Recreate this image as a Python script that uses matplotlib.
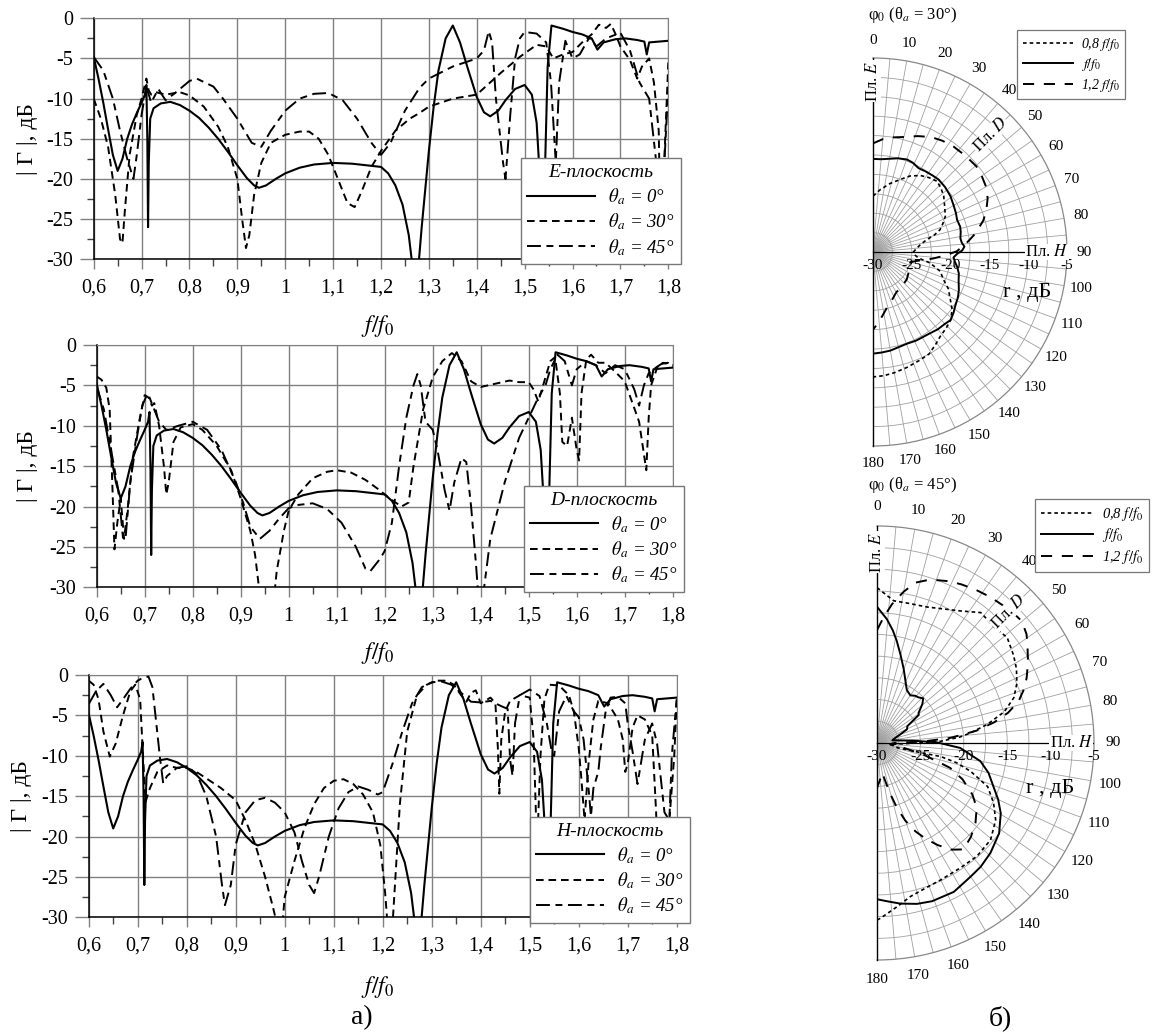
import numpy as np
import matplotlib
matplotlib.use('Agg')
import matplotlib.pyplot as plt
from matplotlib.ticker import MultipleLocator, FuncFormatter

W, H = 1152, 1033
plt.rcParams['font.family'] = ['Liberation Serif', 'DejaVu Serif']
plt.rcParams['mathtext.fontset'] = 'stix'
plt.rcParams['lines.scale_dashes'] = False
plt.rcParams['axes.unicode_minus'] = False

# ---------------- data: |Gamma| (dB) vs f/f0 ----------------
SOLID = [(0.600,-4.8),(0.610,-7.5),(0.620,-10.5),(0.630,-13.8),(0.640,-17.0),(0.650,-19.0),
         (0.660,-17.5),(0.670,-15.0),(0.680,-13.2),(0.690,-11.8),(0.700,-10.5),(0.707,-9.5),
         (0.710,-8.3),(0.712,-15),(0.7135,-26),(0.715,-18),(0.718,-12.5),(0.725,-11.2),
         (0.740,-10.6),(0.760,-10.4),(0.780,-10.8),(0.800,-11.5),(0.820,-12.4),(0.840,-13.6),
         (0.860,-15.0),(0.880,-16.6),(0.900,-18.3),(0.920,-19.9),(0.935,-20.8),(0.945,-21.1),
         (0.960,-20.8),(0.980,-20.0),(1.000,-19.3),(1.030,-18.6),(1.060,-18.2),(1.100,-18.0),
         (1.140,-18.1),(1.170,-18.3),(1.200,-18.5),(1.215,-19.3),(1.230,-20.8),(1.245,-23.2),
         (1.258,-27),(1.266,-31),(1.278,-31),(1.285,-26),(1.300,-16.5),(1.310,-11),(1.320,-6.5),
         (1.335,-2.5),(1.350,-0.9),(1.365,-3.0),(1.380,-6.0),(1.400,-9.8),(1.415,-11.7),
         (1.428,-12.2),(1.445,-11.5),(1.460,-10.2),(1.480,-8.8),(1.500,-8.3),(1.515,-9.5),
         (1.525,-13),(1.532,-20),(1.537,-31),(1.542,-20),(1.548,-6),(1.556,-0.9),(1.580,-1.3),
         (1.600,-1.7),(1.620,-2.0),(1.640,-2.5),(1.652,-3.9),(1.665,-3.0),(1.690,-2.6),
         (1.710,-2.5),(1.735,-2.7),(1.750,-2.9),(1.755,-4.5),(1.760,-3.0),(1.780,-2.9),(1.800,-2.8)]

E30 = [(0.6,-10),(0.615,-12.5),(0.63,-16),(0.645,-22),(0.655,-27.5),(0.66,-28),(0.665,-24),
       (0.675,-17),(0.69,-12),(0.70,-10),(0.71,-7.5),(0.715,-9),(0.72,-9.5),(0.73,-9.2),
       (0.75,-9.5),(0.78,-9.2),(0.80,-9.6),(0.83,-11),(0.86,-13.5),(0.88,-16),(0.90,-20),
       (0.91,-25),(0.918,-28.6),(0.925,-27),(0.935,-22),(0.95,-18),(0.97,-15.5),(1.0,-14.5),
       (1.03,-14.1),(1.05,-14.1),(1.07,-15),(1.09,-17),(1.11,-20),(1.13,-23),(1.145,-23.5),
       (1.16,-21.5),(1.18,-18.5),(1.2,-16.5),(1.23,-14),(1.26,-12.5),(1.28,-11.8),(1.3,-11),
       (1.35,-10),(1.4,-9.5),(1.45,-6.8),(1.49,-4.8),(1.525,-3.3),(1.545,-3.5),(1.56,-5),
       (1.58,-4.5),(1.6,-4.2),(1.62,-3),(1.64,-2),(1.655,-0.8),(1.67,-1.2),(1.68,-0.7),
       (1.69,-2),(1.70,-3.5),(1.72,-5.2),(1.735,-7.5),(1.745,-6),(1.76,-5),(1.77,-8),
       (1.78,-14),(1.785,-31),(1.79,-20),(1.8,-5.5)]

E45 = [(0.6,-4.8),(0.62,-6.5),(0.64,-10),(0.655,-14),(0.67,-17.5),(0.683,-20),(0.69,-17),
       (0.70,-12),(0.71,-8.5),(0.72,-10.5),(0.735,-8.8),(0.75,-10.2),(0.77,-9.3),(0.80,-7.8),
       (0.815,-7.5),(0.85,-8.5),(0.87,-10),(0.90,-12.5),(0.93,-15.5),(0.95,-16),(0.97,-14),
       (1.0,-11.5),(1.03,-10),(1.06,-9.4),(1.09,-9.3),(1.12,-10.2),(1.15,-12.5),(1.18,-15.5),
       (1.2,-17),(1.22,-15.5),(1.25,-11.5),(1.28,-8.7),(1.3,-7.5),(1.35,-6),(1.38,-5.4),
       (1.4,-5),(1.415,-4),(1.425,-1.6),(1.432,-3),(1.44,-10),(1.455,-18),(1.46,-20),
       (1.47,-12),(1.48,-5),(1.49,-2.5),(1.5,-1.7),(1.525,-1.9),(1.545,-3),(1.555,-8),
       (1.565,-18),(1.572,-8),(1.585,-2.8),(1.6,-5),(1.615,-4.5),(1.635,-2.4),(1.65,-3.5),
       (1.67,-2.5),(1.7,-1.8),(1.72,-4),(1.74,-8),(1.76,-10),(1.775,-18),(1.78,-31),
       (1.79,-20),(1.8,-8.5)]

D30 = [(0.6,-3.9),(0.61,-4.3),(0.62,-5.3),(0.627,-8),(0.633,-18),(0.637,-25.3),(0.643,-22),
       (0.65,-19),(0.657,-24),(0.665,-20),(0.675,-14),(0.69,-9),(0.7,-6.2),(0.708,-6.5),
       (0.715,-7.5),(0.72,-7.2),(0.73,-10),(0.74,-15),(0.745,-18.5),(0.75,-17),(0.76,-12),
       (0.775,-10.2),(0.8,-9.8),(0.82,-10.5),(0.85,-12.5),(0.88,-15.5),(0.9,-19),(0.92,-23),
       (0.93,-26),(0.94,-31),(0.97,-31),(0.975,-28),(0.99,-23),(1.0,-20.5),(1.02,-18.5),
       (1.05,-16.5),(1.08,-15.7),(1.1,-15.5),(1.13,-15.8),(1.16,-16.7),(1.19,-18),(1.21,-19),
       (1.235,-20),(1.25,-19.5),(1.26,-15),(1.28,-8),(1.30,-4),(1.32,-2),(1.34,-1),(1.36,-2),
       (1.38,-4.5),(1.4,-5.2),(1.43,-4.8),(1.46,-4.4),(1.48,-4.6),(1.5,-4.6),(1.51,-5.5),
       (1.52,-7),(1.535,-4),(1.545,-2),(1.555,-1.5),(1.565,-6),(1.57,-12),(1.58,-12.5),
       (1.59,-9),(1.6,-13),(1.605,-14.3),(1.61,-6),(1.62,-1.8),(1.63,-1.2),(1.645,-2.2),
       (1.66,-2.2),(1.68,-3.3),(1.7,-4.5),(1.715,-7),(1.73,-9.5),(1.745,-15.5),(1.75,-9),
       (1.755,-5),(1.77,-2.4),(1.79,-2.2),(1.8,-2.8)]

D45 = [(0.6,-5.2),(0.615,-8),(0.63,-13),(0.645,-18),(0.655,-24),(0.66,-24),(0.67,-17),
       (0.685,-11),(0.695,-7.5),(0.705,-6.1),(0.71,-6.5),(0.72,-8),(0.73,-9.5),(0.745,-10.5),
       (0.77,-10),(0.8,-9.5),(0.83,-10.5),(0.86,-13),(0.89,-17),(0.905,-19.5),(0.92,-22.5),
       (0.94,-24),(0.96,-23),(0.98,-21.5),(1.0,-20.2),(1.02,-19.8),(1.05,-19.6),(1.08,-20.3),
       (1.11,-22),(1.14,-25),(1.16,-27.7),(1.17,-28),(1.19,-26.5),(1.2,-25.5),(1.215,-22),
       (1.23,-15),(1.245,-9),(1.26,-5),(1.268,-3.6),(1.275,-5),(1.285,-9.5),(1.3,-10.5),
       (1.31,-13),(1.325,-18),(1.335,-20.5),(1.345,-17),(1.36,-14),(1.37,-14.5),(1.38,-20),
       (1.39,-27),(1.395,-31),(1.405,-31),(1.42,-24),(1.45,-17),(1.48,-11.5),(1.5,-9),
       (1.52,-6.5),(1.535,-5),(1.545,-3),(1.56,-1.2),(1.575,-2),(1.59,-5),(1.6,-3),(1.62,-2.0),
       (1.64,-2.5),(1.66,-3.5),(1.68,-2.5),(1.7,-3),(1.72,-5.5),(1.73,-7.5),(1.74,-5),
       (1.75,-3.5),(1.765,-2.8),(1.78,-2.2),(1.8,-2.5)]

H30 = [(0.6,-0.7),(0.61,-1.2),(0.62,-3),(0.63,-7),(0.643,-10.1),(0.655,-8.5),(0.67,-5),
       (0.685,-2),(0.695,-1.2),(0.705,-3),(0.71,-9),(0.716,-15.7),(0.725,-14),(0.74,-12),
       (0.76,-11.2),(0.78,-11.5),(0.8,-11.5),(0.82,-12),(0.85,-13.2),(0.87,-14),(0.9,-15.5),
       (0.92,-18),(0.94,-21),(0.96,-25),(0.975,-28.5),(0.985,-31),(0.995,-31),(1.0,-27.5),
       (1.02,-23),(1.04,-19),(1.06,-16),(1.08,-14),(1.1,-13.1),(1.12,-12.9),(1.14,-13.5),
       (1.16,-14.8),(1.18,-17),(1.195,-21),(1.205,-27),(1.21,-31),(1.22,-31),(1.225,-26),
       (1.235,-16),(1.25,-7),(1.27,-2.5),(1.29,-1.2),(1.31,-0.7),(1.33,-0.7),(1.345,-1.2),
       (1.36,-2.5),(1.371,-3.3),(1.38,-2.2),(1.39,-1.9),(1.4,-3.5),(1.42,-2.8),(1.43,-3.5),
       (1.435,-9),(1.438,-14.7),(1.442,-8),(1.45,-4.5),(1.46,-3.2),(1.48,-2.5),(1.5,-2.8),
       (1.508,-8),(1.515,-21.7),(1.522,-10),(1.53,-3),(1.54,-1.2),(1.56,-1.3),(1.58,-2.5),
       (1.59,-4.5),(1.6,-9),(1.605,-12.5),(1.612,-18),(1.62,-11),(1.63,-5.5),(1.64,-3.2),
       (1.66,-3.5),(1.68,-5.5),(1.69,-8),(1.695,-12),(1.7,-11),(1.71,-6.5),(1.72,-5),
       (1.735,-5.5),(1.75,-7.5),(1.758,-17),(1.765,-31),(1.775,-31),(1.785,-18),(1.795,-10),
       (1.8,-3.2)]

H45 = [(0.6,-3.6),(0.615,-2),(0.63,-1.1),(0.645,-2.5),(0.658,-4),(0.67,-3),(0.685,-1.7),
       (0.7,-0.7),(0.712,-0.3),(0.722,-0.2),(0.73,-1.5),(0.738,-6),(0.745,-10),(0.752,-13.4),
       (0.76,-12.5),(0.78,-11.5),(0.8,-11.3),(0.82,-12.2),(0.84,-15),(0.86,-20),(0.872,-26),
       (0.878,-28.5),(0.89,-26),(0.9,-21),(0.92,-17),(0.94,-15.5),(0.96,-15.2),(0.98,-15.8),
       (1.0,-17),(1.02,-19.5),(1.035,-23),(1.05,-26),(1.06,-27),(1.07,-25),(1.09,-20),
       (1.11,-16.5),(1.13,-14.5),(1.15,-13.8),(1.17,-14.2),(1.19,-14.8),(1.2,-14.5),(1.22,-11),
       (1.24,-7),(1.26,-3.5),(1.28,-1.5),(1.3,-0.9),(1.32,-0.8),(1.34,-1.2),(1.36,-2.2),
       (1.38,-3.3),(1.4,-3.4),(1.42,-3.2),(1.44,-3.8),(1.455,-4.2),(1.46,-10.5),(1.465,-12.5),
       (1.47,-6),(1.48,-2.5),(1.5,-1.8),(1.52,-2.6),(1.535,-6),(1.545,-9.5),(1.55,-10),
       (1.56,-4.5),(1.575,-2.6),(1.59,-4.5),(1.6,-5.2),(1.61,-8),(1.62,-14),(1.625,-17.5),
       (1.63,-14),(1.64,-12),(1.645,-9),(1.655,-4.5),(1.665,-2.8),(1.68,-2.7),(1.695,-3.5),
       (1.7,-6),(1.71,-9.5),(1.72,-13.5),(1.735,-8),(1.75,-6),(1.76,-8.5),(1.775,-17),
       (1.785,-18),(1.79,-10),(1.8,-3)]

XTICKS = [0.6, 0.7, 0.8, 0.9, 1.0, 1.1, 1.2, 1.3, 1.4, 1.5, 1.6, 1.7, 1.8]
YTICKS = [0, -5, -10, -15, -20, -25, -30]
LEG_LABELS = ['$\\theta_a$ = 0°', '$\\theta_a$ = 30°', '$\\theta_a$ = 45°']
PLANE_TITLES = ['E-плоскость', 'D-плоскость', 'H-плоскость']

# ---------------- data: polar reflection patterns (phi0 deg, dB) ----------------
UP_08 = [(0,-22.8),(6.7,-21.9),(14,-20.9),(20.7,-20.0),(26,-19.1),(31.8,-18.4),(37,-18),
         (42.2,-17.7),(47,-18),(51.8,-18.4),(57,-19),(63.7,-19.6),(68,-20.3),(71.6,-20.9),
         (74.5,-21.8),(77.1,-22.9),(81,-23.8),(84.8,-24.3),(90,-24.8),(94,-24.6),(97.5,-24.1),
         (100.9,-22.5),(106,-21.0),(111.6,-20.2),(116,-19.2),(121.6,-18.3),(126,-17.4),
         (131.2,-16.7),(136,-16.4),(141.4,-16.1),(146,-15.6),(151.2,-15.0),(157,-14.8),
         (163.5,-14.5),(170,-14.2),(175,-14.0),(180,-13.9)]
UP_10 = [(0,-18.0),(5,-18.0),(10,-17.8),(15,-17.5),(20.2,-17.3),(24,-17.4),(28.5,-17.7),
         (33,-17.6),(38,-17.5),(42.2,-17.4),(48,-17.5),(54.3,-17.7),(60,-18),(65,-18.2),
         (69,-18.4),(73.8,-18.3),(77,-18.4),(81.1,-18.6),(84,-18.5),(86.6,-18.2),(89,-18.5),
         (91,-19.1),(93.8,-19.6),(96.5,-19.4),(99.9,-19.0),(104,-18.6),(108,-18.4),
         (113.9,-17.9),(118,-17.6),(123.6,-17.3),(127,-17.0),(131.3,-16.7),(135,-16.9),
         (140,-17.0),(144.8,-17.2),(150,-17.3),(154,-17.3),(159.6,-17.4),(165,-17.3),
         (170,-17.1),(175,-17.0),(180,-16.9)]
UP_12 = [(0,-16.0),(5,-15.4),(10,-15.0),(15.7,-14.6),(21,-14.0),(26.8,-13.4),(32,-13.1),
         (37.5,-12.9),(44,-12.8),(50.3,-12.7),(55,-12.9),(60.5,-13.2),(65,-13.7),(69.5,-14.4),
         (74,-15.2),(79.8,-16.6),(85,-18.0),(89.5,-19.2),(93,-20.8),(96.4,-22.3),(100,-23.8),
         (105,-25.0),(112,-25.0),(120,-24.7),(129,-24.4),(140,-24.2),(150,-24.0),(160,-23.2),
         (166,-22.6),(171,-21.8),(176,-20.8),(180,-20.0)]

LO_08 = [(0,-12.1),(6.7,-13.5),(13,-13.5),(20.3,-13.3),(26,-12.8),(32.3,-12.0),(38.5,-10.8),
         (45.2,-11.0),(51,-10.7),(57.3,-11.3),(62,-11.8),(67,-12.5),(71.7,-13.4),(76.2,-14.9),
         (80.4,-17.1),(83.9,-19.2),(86,-20.5),(88.5,-22.7),(91,-26.5),(96,-28.5),(103,-27.5),
         (102.5,-25.3),(102,-22.5),(104,-20.5),(106.9,-18.7),(111.5,-16.3),(117.2,-14.9),
         (123,-13.7),(130.5,-12.8),(138.6,-12.6),(146.3,-12.7),(155.1,-12.6),(161,-12.4),
         (167.7,-11.9),(173,-11.0),(178.9,-9.8),(180,-9.6)]
LO_10 = [(0,-14.3),(4.6,-15.7),(8,-16.9),(10.9,-18.0),(15,-19.5),(19.7,-20.9),(24,-22.0),
         (29.4,-23.0),(35,-23.3),(39,-23.0),(42.2,-22.9),(46,-22.6),(49.3,-23.1),(54.2,-24.1),
         (56.1,-24.2),(61,-26),(65.5,-26.2),(70,-27.2),(76.5,-28),(80,-28.2),(86,-26),
         (89.4,-23.1),(93.4,-20.4),(100,-17.9),(105,-16.7),(110.4,-15.7),(115,-14.6),
         (119.6,-13.6),(126.5,-12.5),(134.1,-11.8),(140,-11.4),(145,-11.2),(152.7,-10.7),
         (160.8,-10.7),(166,-10.9),(171.7,-11.3),(176,-11.7),(180,-12.0)]
LO_12 = [(0,-17.0),(3,-15.5),(6.2,-13.9),(10,-12.3),(13.5,-11.0),(18,-10.2),(24,-9.6),
         (28,-9.3),(32.7,-9.0),(38,-8.7),(42.7,-8.5),(46,-8.3),(50,-8.2),(54,-8.7),(57.8,-9.5),
         (62,-10.3),(66.5,-11.2),(70,-12.0),(73.6,-13.0),(77,-14.5),(80,-16.3),(83,-18.5),
         (86,-21.5),(88,-24.5),(90,-28),(95,-28.5),(100,-27),(104,-24.5),(108.8,-21.1),
         (113,-19.3),(118.4,-17.5),(123,-16.3),(129,-15.4),(135,-14.7),(140.9,-14.2),
         (145,-15.0),(149.2,-16.3),(153,-17.6),(156.5,-18.9),(160,-20.5),(162.9,-22.2),
         (165.5,-24),(167.7,-25.5),(170,-26.5),(175,-25.8),(180,-24.8)]

POLAR_LABELS = ['0,8 $f/f_0$', '$f/f_0$', '1,2 $f/f_0$']
R_TICKS = [-30, -25, -20, -15, -10, -5]
ANG_TICKS = list(range(0, 181, 10))

# ---------------- figure ----------------
fig = plt.figure(figsize=(W / 100, H / 100), dpi=100)


def rect(l, t, r, b):
    return [l / W, 1 - b / H, (r - l) / W, (b - t) / H]


def fmt_x(v, pos):
    s = f'{v:.1f}'
    if s.endswith('.0'):
        s = s[:-2]
    return s.replace('.', ',')


DASH30 = (5.5, 3.5)
DASH45 = (10, 4, 5, 4)
GRID_C = '#808080'

panels = [
    dict(box=(93.7, 18.3, 668.3, 259.3), s30=E30, s45=E45, leg=(1.022, -0.02), ylx=28, xly=326),
    dict(box=(96.7, 345.0, 672.7, 587.3), s30=D30, s45=D45, leg=(1.0196, -0.019), ylx=28, xly=653),
    dict(box=(88.7, 675.0, 676.7, 917.3), s30=H30, s45=H45, leg=(1.0226, -0.0235), ylx=21, xly=987),
]

for i, p in enumerate(panels):
    l, t, r, b = p['box']
    ax = fig.add_axes(rect(l, t, r, b))
    f0, g0 = zip(*SOLID)
    f3, g3 = zip(*p['s30'])
    f4, g4 = zip(*p['s45'])
    ax.plot(f0, g0, color='k', lw=1.5, label=LEG_LABELS[0], zorder=3)
    ax.plot(f3, g3, color='k', lw=1.4, dashes=DASH30, label=LEG_LABELS[1], zorder=3)
    ax.plot(f4, g4, color='k', lw=1.4, dashes=DASH45, label=LEG_LABELS[2], zorder=3)
    ax.set_xlim(0.6, 1.8)
    ax.set_ylim(-30, 0)
    ax.set_xticks(XTICKS)
    ax.set_yticks(YTICKS)
    ax.xaxis.set_minor_locator(MultipleLocator(0.05))
    ax.yaxis.set_minor_locator(MultipleLocator(2.5))
    ax.xaxis.set_major_formatter(FuncFormatter(fmt_x))
    ax.yaxis.set_major_formatter(FuncFormatter(lambda v, pos: f'{v:.0f}'))
    ax.grid(which='major', color=GRID_C, lw=1.0)
    ax.tick_params(axis='x', which='major', direction='out', length=7, width=1.0,
                   color=GRID_C, labelsize=14.5, pad=7)
    ax.tick_params(axis='x', which='minor', direction='out', length=5, width=1.0, color='#444444')
    ax.tick_params(axis='y', which='major', direction='out', length=10, width=1.0,
                   color=GRID_C, labelsize=14.5, pad=5)
    ax.tick_params(axis='y', which='minor', direction='out', length=5, width=1.0, color='#444444')
    for s in ('top', 'right'):
        ax.spines[s].set_color(GRID_C)
    for s in ('left', 'bottom'):
        ax.spines[s].set_color('k')
        ax.spines[s].set_linewidth(1.1)
    leg = ax.legend(loc='lower right', bbox_to_anchor=p['leg'], borderaxespad=0,
                    title=PLANE_TITLES[i], frameon=True, fancybox=False, framealpha=1,
                    edgecolor='#777777', prop={'style': 'italic', 'size': 13.5},
                    title_fontproperties={'style': 'italic', 'size': 14},
                    handlelength=3.6, handletextpad=0.7, labelspacing=0.25,
                    borderpad=0.35)
    leg.get_frame().set_linewidth(1.0)
    leg.set_zorder(5)
    fig.text(p['ylx'] / W, 1 - (t + b) / 2 / H, '| Γ |, дБ', rotation=90, fontsize=17,
             ha='center', va='center')
    fig.text(378 / W, 1 - p['xly'] / H, '$f/f_0$', fontsize=17, ha='center', va='center')

fig.text(362 / W, 1 - 1018 / H, 'а)', fontsize=20, ha='center', va='center')
fig.text(1000 / W, 1 - 1018 / H, 'б)', fontsize=20, ha='center', va='center')


def polar(cx, cy, R, series, title, title_y, rlab_xy, leg_anchor, leg_size):
    ax = fig.add_axes(rect(cx - 0.5 * R, cy - R, cx + 1.5 * R, cy + R), projection='polar')
    ax.set_theta_zero_location('N')
    ax.set_theta_direction(-1)
    ax.set_thetalim(0, np.pi)
    ax.set_ylim(-30, -5)
    ax.set_xticks(np.deg2rad(ANG_TICKS))
    ax.set_xticks(np.deg2rad(np.arange(5, 180, 10)), minor=True)
    ax.set_xticklabels([])
    ax.set_yticks(np.arange(-27.5, -5, 2.5))
    ax.set_yticklabels([])
    ax.grid(which='both', color='#a0a0a0', lw=0.6)
    ax.tick_params(axis='x', which='major', length=5, color='#888888', direction='out')
    ax.tick_params(axis='x', which='minor', length=0)
    ax.spines['polar'].set_color('#888888')
    ax.spines['polar'].set_linewidth(0.9)
    for s in ('start', 'end'):
        ax.spines[s].set_color('k')
        ax.spines[s].set_linewidth(1.0)
    ax.spines['inner'].set_visible(False)
    # grey haze at the pole where the spokes converge
    tt = np.linspace(0, np.pi, 60)
    for rr in np.linspace(-29.6, -27.2, 7):
        ax.fill_between(tt, -30, rr, color='#9a9a9a', alpha=0.12, lw=0, zorder=1)
    # H-plane line
    ax.plot([np.pi / 2] * 2, [-30, -5], color='k', lw=0.9, zorder=2.6)
    styles = [dict(dashes=(2.6, 2.2), lw=1.2), dict(lw=1.4), dict(dashes=(8, 7), lw=1.4)]
    for data, st, lab in zip(series, styles, POLAR_LABELS):
        th, rr = zip(*data)
        ax.plot(np.deg2rad(th), rr, color='k', label=lab, zorder=3, **st)
    for a in ANG_TICKS:
        ax.text(np.deg2rad(a), -30 + 25 * 1.09, str(a), fontsize=11, ha='center', va='center',
                clip_on=False)
    for v in R_TICKS:
        ax.annotate(str(v), xy=(np.pi / 2, v), xytext=(0, -5), textcoords='offset points',
                    ha='center', va='top', fontsize=11, annotation_clip=False)
    wb = dict(fc='white', ec='none', pad=0.3)
    ax.text(np.pi / 2, -7.6, 'Пл. $H$', fontsize=12, ha='center', va='center', bbox=wb, zorder=4)
    ax.text(0, -8.0, 'Пл. $E$', fontsize=12, ha='center', va='center', rotation=90, bbox=wb,
            zorder=4, clip_on=False)
    ax.text(np.pi / 4, -8.6, 'Пл. $D$', fontsize=12, ha='center', va='center', rotation=45,
            bbox=wb, zorder=4)
    fig.text(868 / W, 1 - title_y / H, 'φ$_0$ (θ$_a$ = ' + title + ')', fontsize=12,
             ha='left', va='center')
    fig.text(rlab_xy[0] / W, 1 - rlab_xy[1] / H, 'r , дБ', fontsize=16, ha='center', va='center')
    lg = ax.legend(loc='upper left', bbox_to_anchor=(leg_anchor[0] / W, 1 - leg_anchor[1] / H),
                   bbox_transform=fig.transFigure, borderaxespad=0, frameon=True, fancybox=False,
                   framealpha=1, edgecolor='#777777', prop={'style': 'italic', 'size': leg_size},
                   handlelength=3.6, handletextpad=0.6, labelspacing=0.25, borderpad=0.4)
    lg.get_frame().set_linewidth(0.9)
    return ax


polar(873, 252, 194, [UP_08, UP_10, UP_12], '30°', 15, (1027, 293), (1017, 30), 10)
polar(877, 743, 217, [LO_08, LO_10, LO_12], '45°', 485, (1050, 788), (1035, 499), 10.5)

fig.savefig('out.png', dpi=100)
